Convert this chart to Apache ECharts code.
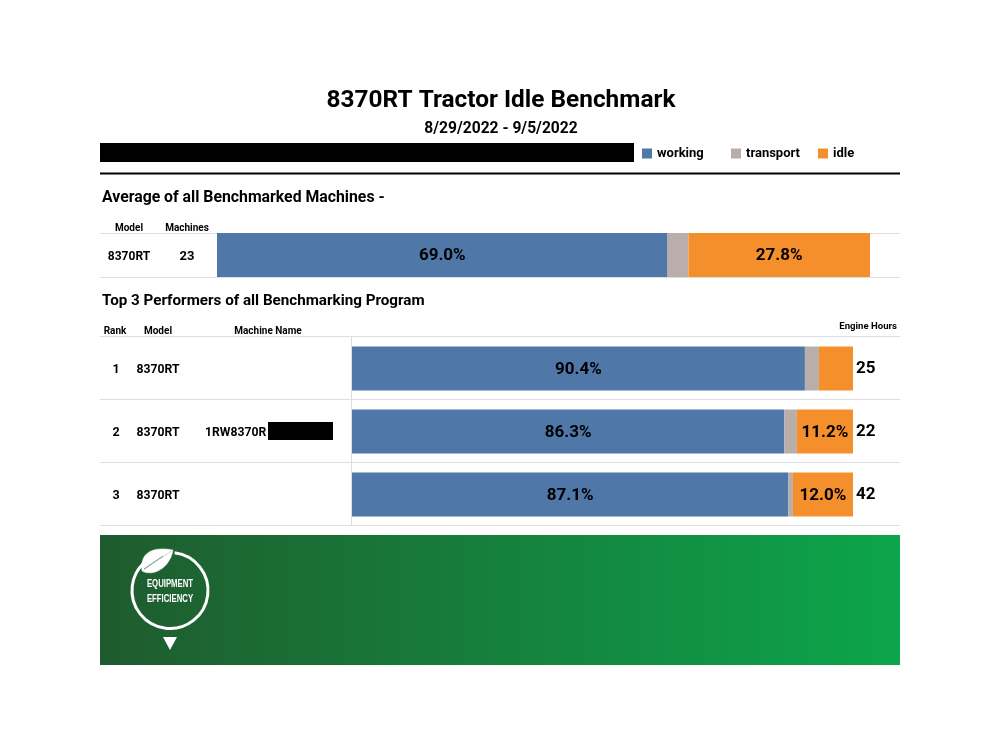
<!DOCTYPE html>
<html>
<head>
<meta charset="utf-8">
<title>8370RT Tractor Idle Benchmark</title>
<script src="https://cdn.jsdelivr.net/npm/echarts@6/dist/echarts.min.js"></script>
<style>
  html, body { margin: 0; padding: 0; background: #fff; }
  #chart { width: 1000px; height: 739px; }
</style>
</head>
<body>
<div id="chart"></div>
<script>
const avgModels = ["8370RT"];
const avgMachines = [23];
const avgWorking = [69.0];
const avgTransport = [3.2];
const avgIdle = [27.8];

const ranks = [1, 2, 3];
const topModels = ["8370RT", "8370RT", "8370RT"];
const machineNames = ["", "1RW8370R", ""];
const engineHours = [25, 22, 42];
const topWorking = [90.4, 86.3, 87.1];
const topTransport = [2.8, 2.5, 0.9];
const topIdle = [6.8, 11.2, 12.0];

const BLUE = "#4f78a8";
const GREY = "#b9aea9";
const ORANGE = "#f58f2c";
const FONT = 'Roboto, sans-serif';
const RULE = "#dedede";

const chart = echarts.init(document.getElementById("chart"));

const text = (x, y, str, size, align) => ({
  type: "text",
  x: x,
  y: y,
  style: {
    text: String(str),
    fontFamily: FONT,
    fontWeight: "bold",
    fontSize: size,
    fill: "#000",
    align: align || "center",
    verticalAlign: "middle"
  }
});
const rule = (x1, x2, y, color, width) => ({
  type: "line",
  shape: { x1: x1, y1: y, x2: x2, y2: y },
  style: { stroke: color, lineWidth: width }
});
const box = (x, y, w, h, fill) => ({
  type: "rect",
  shape: { x: x, y: y, width: w, height: h },
  style: { fill: fill }
});
const leafEdge = (cpx1, cpy1, cpx2, cpy2) => ({
  type: "bezierCurve",
  shape: { x1: 142, y1: 571, x2: 173, y2: 550, cpx1: cpx1, cpy1: cpy1, cpx2: cpx2, cpy2: cpy2 },
  style: { fill: "#fff", stroke: "#fff", lineWidth: 0.5 }
});

const rowY = [369.5, 432.5, 495.5];
const tableText = [];
ranks.forEach((r, i) => {
  tableText.push(text(116, rowY[i], r, 12.5));
  tableText.push(text(158, rowY[i], topModels[i], 12.2));
  if (machineNames[i]) tableText.push(text(205, rowY[i], machineNames[i], 12.2, "left"));
});

const graphics = [
  // banner goes first so the logo sits on top
  {
    type: "rect",
    shape: { x: 100, y: 535, width: 800, height: 130 },
    style: {
      fill: new echarts.graphic.LinearGradient(0, 0, 1, 0, [
        { offset: 0, color: "#1f5b2e" },
        { offset: 1, color: "#0ca54b" }
      ])
    }
  },
  {
    type: "arc",
    shape: { cx: 170, cy: 590.5, r: 38, startAngle: -1.45, endAngle: 3.93 },
    style: { stroke: "#fff", lineWidth: 3, fill: null }
  },
  leafEdge(139, 549, 158, 547),
  leafEdge(153, 577, 170, 568),
  {
    type: "line",
    shape: { x1: 144, y1: 569, x2: 163, y2: 556 },
    style: { stroke: "#1f5b2e", lineWidth: 0.6 }
  },
  {
    type: "polygon",
    shape: { points: [[163, 637], [177, 637], [170, 650]] },
    style: { fill: "#fff" }
  },
  {
    type: "text",
    x: 170,
    y: 592,
    scaleX: 0.74,
    style: {
      text: "EQUIPMENT\nEFFICIENCY",
      fontFamily: '"Liberation Sans", sans-serif',
      fontWeight: "bold",
      fontSize: 10.5,
      lineHeight: 15,
      fill: "#fff",
      align: "center",
      verticalAlign: "middle"
    }
  },

  text(501, 100.5, "8370RT Tractor Idle Benchmark", 24.4),
  text(501, 129, "8/29/2022 - 9/5/2022", 15.6),
  box(100, 143, 534, 19, "#000"),
  rule(100, 900, 173.5, "#000", 2),

  text(102, 198, "Average of all Benchmarked Machines -", 15.8, "left"),
  text(129, 228, "Model", 10),
  text(187, 228, "Machines", 10),
  rule(100, 900, 233.5, RULE, 1),
  rule(100, 900, 277.5, RULE, 1),
  text(129, 257, avgModels[0], 12),
  text(187, 257, avgMachines[0], 13),

  text(102, 301, "Top 3 Performers of all Benchmarking Program", 15.2, "left"),
  text(115, 331, "Rank", 10),
  text(158, 331, "Model", 10),
  text(268, 331, "Machine Name", 10),
  text(897, 327, "Engine Hours", 9.6, "right"),
  rule(100, 900, 336.5, RULE, 1),
  rule(100, 900, 399.5, RULE, 1),
  rule(100, 900, 462.5, RULE, 1),
  rule(100, 900, 525.5, RULE, 1),
  {
    type: "line",
    shape: { x1: 351.5, y1: 337, x2: 351.5, y2: 525 },
    style: { stroke: RULE, lineWidth: 1 }
  },
  ...tableText,
  box(268, 422, 65, 18, "#000")
];

const barLabel = (minValue) => ({
  show: true,
  position: "inside",
  offset: [0, 1],
  fontFamily: FONT,
  fontWeight: "bold",
  fontSize: 17,
  color: "#000",
  formatter: (p) => (p.value >= minValue ? p.value.toFixed(1) + "%" : "")
});

const bars = (name, color, xIndex, values, barWidth, minLabel) => ({
  name: name,
  type: "bar",
  stack: "total" + xIndex,
  xAxisIndex: xIndex,
  yAxisIndex: xIndex,
  barWidth: barWidth,
  data: values,
  itemStyle: { color: color },
  label: barLabel(minLabel)
});

const legendItem = (name, left) => ({
  data: [name],
  left: left,
  top: 147,
  padding: 0,
  itemWidth: 10,
  itemHeight: 10,
  itemGap: 0,
  selectedMode: false,
  icon: "rect",
  textStyle: { fontFamily: FONT, fontWeight: "bold", fontSize: 13, color: "#000" }
});

chart.setOption({
  animation: false,
  backgroundColor: "#fff",
  legend: [
    legendItem("working", 642),
    legendItem("transport", 731),
    legendItem("idle", 818)
  ],
  grid: [
    { left: 217, top: 233, width: 653, height: 44 },
    { left: 352, top: 337, width: 501, height: 189 }
  ],
  xAxis: [
    { gridIndex: 0, type: "value", min: 0, max: 100, show: false },
    { gridIndex: 1, type: "value", min: 0, max: 100, show: false }
  ],
  yAxis: [
    { gridIndex: 0, type: "category", data: avgModels, show: false },
    {
      gridIndex: 1,
      type: "category",
      data: engineHours,
      inverse: true,
      position: "right",
      axisLine: { show: false },
      axisTick: { show: false },
      axisLabel: {
        margin: 3,
        padding: [2, 0, 0, 0],
        fontFamily: FONT,
        fontWeight: "bold",
        fontSize: 17,
        color: "#000"
      }
    }
  ],
  series: [
    bars("working", BLUE, 0, avgWorking, 44, 10),
    bars("transport", GREY, 0, avgTransport, 44, 101),
    bars("idle", ORANGE, 0, avgIdle, 44, 10),
    bars("working", BLUE, 1, topWorking, 44, 10),
    bars("transport", GREY, 1, topTransport, 44, 101),
    bars("idle", ORANGE, 1, topIdle, 44, 10)
  ],
  graphic: { elements: graphics }
});
</script>
</body>
</html>
